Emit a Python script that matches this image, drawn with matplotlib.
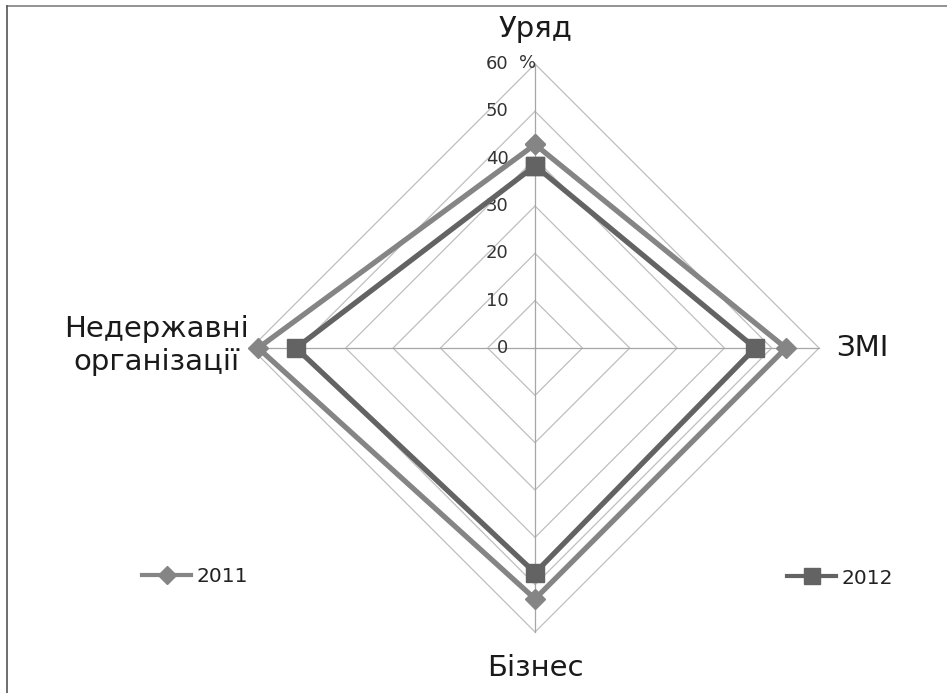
import matplotlib
matplotlib.use("Agg")
import matplotlib.pyplot as plt
from matplotlib.lines import Line2D
import numpy as np

plt.rcParams['font.family'] = ['DejaVu Sans']

# chart data
categories = ["Уряд", "ЗМІ", "Бізнес", "Недержавні\nорганізації"]
angles_deg = [90, 0, -90, 180]
values_2011 = [43, 53, 53, 58.5]
values_2012 = [38.5, 46.5, 47.5, 50.5]
grid_levels = [0, 10, 20, 30, 40, 50, 60]
tick_labels = ["0", "10", "20", "30", "40", "50", "60"]


def to_xy(vals):
    a = np.radians(angles_deg + angles_deg[:1])
    v = np.array(list(vals) + list(vals[:1]), dtype=float)
    return v * np.cos(a), v * np.sin(a)


fig = plt.figure(figsize=(9.47, 6.93), dpi=100)
ax = fig.add_axes([0.2351, 0.0470, 0.6598, 0.9016])
ax.set_xlim(-66, 66)
ax.set_ylim(-66, 66)
ax.set_aspect("equal")
ax.axis("off")

# diamond grid
for lvl in grid_levels[1:]:
    gx, gy = to_xy([lvl] * 4)
    ax.plot(gx, gy, color="#bfbfbf", lw=0.9, zorder=1)
# spokes
for a in angles_deg:
    r = np.radians(a)
    ax.plot([0, 60 * np.cos(r)], [0, 60 * np.sin(r)], color="#a6a6a6", lw=0.9, zorder=1)

# tick labels along the top spoke
for lvl, lab in zip(grid_levels, tick_labels):
    ax.text(-5.6, lvl, lab, ha="right", va="center", fontsize=13, color="#333333")
ax.text(0.2, 60.2, "%", ha="right", va="center", fontsize=13, color="#333333")

# series
x1, y1 = to_xy(values_2011)
x2, y2 = to_xy(values_2012)
l1, = ax.plot(x1, y1, color="#858585", lw=3.8, marker="D", markersize=10,
              solid_joinstyle="miter", zorder=3, clip_on=False)
l2, = ax.plot(x2, y2, color="#636363", lw=3.8, marker="s", markersize=13,
              solid_joinstyle="miter", zorder=4, clip_on=False)

# category labels
ax.text(0, 67.5, categories[0], ha="center", va="center", fontsize=21, color="#1a1a1a")
ax.text(63.5, 0, categories[1], ha="left", va="center", fontsize=21, color="#1a1a1a")
ax.text(0, -67.5, categories[2], ha="center", va="center", fontsize=21, color="#1a1a1a")
ax.text(-80, 0.5, categories[3], ha="center", va="center", fontsize=21, color="#1a1a1a",
        multialignment="center", linespacing=1.25)

# legends, placed apart like in the original
leg_kw = dict(loc="center left", frameon=False, fontsize=14.5, handlelength=2.45,
              handletextpad=0.25, borderpad=0, borderaxespad=0, labelcolor="#222222")
h1 = Line2D([], [], color="#858585", lw=3, marker="D", markersize=9)
h2 = Line2D([], [], color="#636363", lw=3, marker="s", markersize=12)
fig.legend(handles=[h1], labels=["2011"], bbox_to_anchor=(142 / 947, 1 - 577 / 693), **leg_kw)
fig.legend(handles=[h2], labels=["2012"], bbox_to_anchor=(787 / 947, 1 - 578 / 693), **leg_kw)

# outer frame
fig.add_artist(Line2D([7 / 947, 1.0], [1 - 6 / 693, 1 - 6 / 693], color="#808080", lw=1.2))
fig.add_artist(Line2D([7 / 947, 7 / 947], [0, 1 - 6 / 693], color="#555555", lw=1.2))

fig.savefig("out.png", dpi=100)
